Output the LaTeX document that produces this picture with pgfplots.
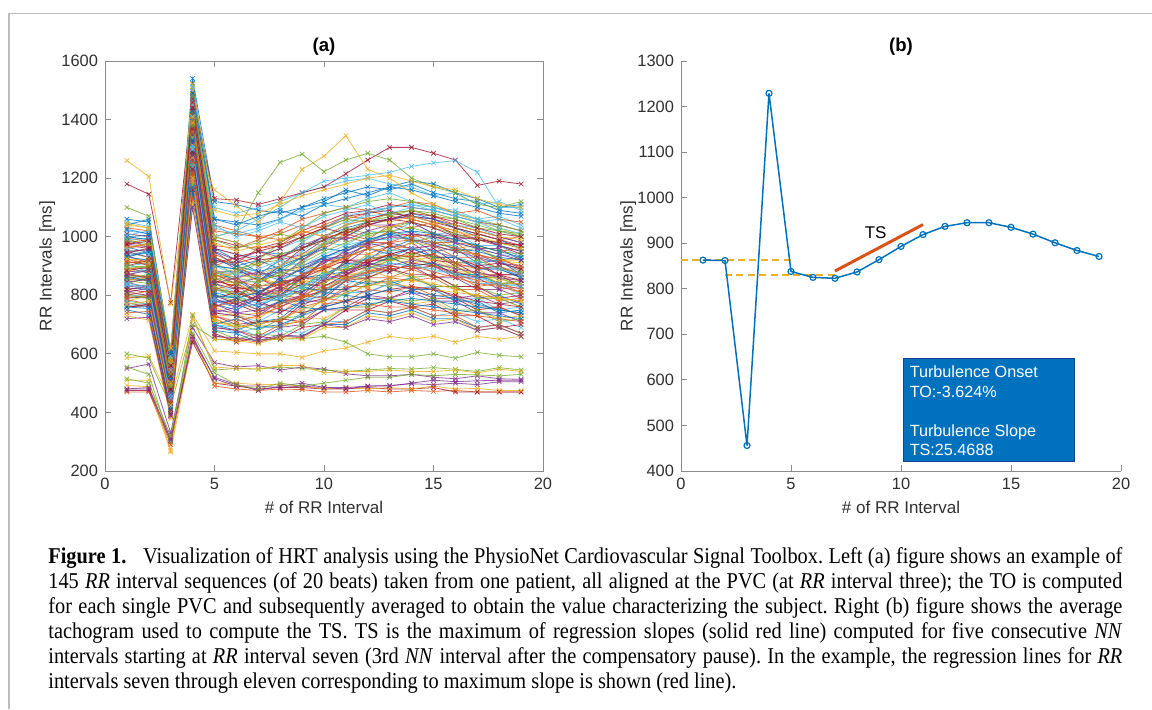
\documentclass[border=0pt]{standalone}
\usepackage{pgfplots}
\pgfplotsset{compat=1.18}
\usepackage{pgfplotstable}
\usepackage{fontspec}
\setmainfont{Liberation Sans}
\newfontfamily\capfont[FakeStretch=0.9]{Liberation Serif}
\definecolor{mB}{HTML}{0072BD}
\definecolor{mO}{HTML}{D95319}
\definecolor{mY}{HTML}{EDB120}
\definecolor{mP}{HTML}{7E2F8E}
\definecolor{mG}{HTML}{77AC30}
\definecolor{mL}{HTML}{4DBEEE}
\definecolor{mR}{HTML}{A2142F}
\definecolor{axgray}{HTML}{8C8C8C}
\definecolor{txgray}{HTML}{303030}
\definecolor{framegray}{HTML}{BDBDBD}
\definecolor{boxborder}{HTML}{1C3F94}
\pgfplotscreateplotcyclelist{matlab}{{mB},{mO},{mY},{mP},{mG},{mL},{mR}}

\pgfplotstableread[col sep=comma, header=false]{
1060,1050,610,1540,1120,1110,1090,1080,1100,1130,1150,1170,1160,1180,1150,1130,1120,1090,1080
470,470,290,660,490,480,475,480,478,470,470,475,470,475,472,475,470,470,470
587,593,440,735,610,605,600,600,588,610,620,640,660,650,660,640,660,650,660
550,565,330,690,570,555,560,545,555,548,532,525,525,530,520,515,525,515,513
600,585,420,700,650,648,648,650,652,660,640,600,590,590,600,585,605,595,590
1050,1035,590,1510,1100,1080,1100,1120,1150,1170,1190,1200,1180,1170,1140,1150,1110,1120,1090
475,475,300,640,500,490,480,485,485,480,480,485,480,480,485,470,470,470,470
1040,1060,600,1525,1060,1050,1040,1060,1100,1120,1160,1140,1170,1190,1180,1150,1130,1100,1110
1030,1020,575,1500,1040,1020,1000,990,1010,1040,1070,1060,1080,1090,1070,1040,1020,1000,980
492,488,265,650,500,500,495,495,490,480,485,480,485,480,490,480,482,475,475
480,480,305,660,515,490,490,485,490,485,480,490,490,500,510,505,508,510,510
555,530,300,730,545,550,548,555,550,545,540,545,550,548,553,547,540,553,545
1020,1010,565,1495,1030,1010,1030,1060,1090,1110,1100,1130,1150,1120,1100,1090,1060,1070,1040
1010,1000,580,1490,990,970,960,980,1020,1050,1080,1090,1110,1100,1090,1070,1050,1040,1020
1000,1005,560,1480,1000,980,950,940,960,1000,1030,1050,1060,1080,1060,1030,1010,990,960
995,985,555,1470,970,960,990,1020,1060,1080,1100,1090,1070,1060,1040,1020,990,980,970
510,510,270,720,555,550,548,560,560,535,540,540,545,540,540,545,535,548,540
480,485,310,650,520,495,475,490,500,485,485,490,492,498,495,500,495,505,505
515,500,320,670,535,495,480,500,490,500,510,520,520,530,525,530,528,525,530
990,995,550,1465,960,940,930,960,990,1020,1050,1070,1080,1070,1050,1040,1030,1000,980
1180,1145,775,1480,1130,1125,1110,1130,1150,1170,1215,1262,1305,1305,1285,1262,1175,1190,1180
985,970,545,1460,950,900,880,900,930,970,1000,1040,1060,1070,1060,1030,1000,970,950
980,990,560,1455,1020,1010,1000,1010,1040,1030,1060,1080,1100,1120,1110,1080,1090,1060,1050
1260,1205,770,1330,1160,1105,1050,1120,1230,1275,1345,1230,1200,1150,1110,1080,1050,1030,1000
975,965,540,1450,930,890,870,880,900,930,960,980,1000,990,970,950,940,910,890
1100,1070,560,1420,1000,1020,1150,1254,1282,1222,1262,1285,1262,1200,1170,1150,1110,1100,1120
1000,990,500,1450,1000,1020,1060,1100,1150,1190,1200,1210,1220,1240,1252,1260,1220,1100,1100
970,960,535,1440,920,910,930,960,1000,1030,1070,1080,1090,1060,1040,1010,990,970,940
965,945,530,1430,900,890,850,880,860,920,930,980,960,990,950,960,910,920,870
960,975,540,1425,940,910,960,970,1020,1000,1010,990,1040,1030,1050,1000,1010,990,1000
955,940,525,1420,890,850,860,840,900,890,960,970,1020,1000,1010,960,970,920,920
950,955,520,1415,880,860,810,850,850,920,910,960,950,980,930,930,890,890,860
945,930,530,1410,910,870,910,920,980,970,1030,1010,1020,980,1000,950,960,920,930
940,945,515,1405,870,860,840,900,910,980,970,1020,1010,1050,1010,1010,970,970,930
935,910,510,1400,860,820,830,800,860,850,920,920,970,940,960,910,910,870,870
930,950,520,1395,900,890,850,890,880,930,930,960,940,960,930,930,890,900,860
925,900,505,1390,850,830,790,830,850,920,920,980,980,1010,980,980,930,930,890
920,925,500,1385,840,800,810,800,850,840,890,890,930,920,930,890,890,850,860
915,905,510,1380,880,880,870,920,940,990,1000,1040,1040,1050,1010,1000,960,960,920
910,915,495,1375,830,790,810,790,830,840,890,900,930,900,910,870,880,840,850
905,880,490,1370,820,810,800,860,870,930,950,990,990,1000,970,970,920,920,880
900,920,500,1365,870,840,860,820,860,860,910,910,940,930,940,900,900,870,870
895,875,485,1360,810,790,760,800,810,870,880,930,930,960,930,930,890,890,860
890,895,480,1355,800,770,800,810,870,890,940,940,970,960,970,930,930,890,890
885,880,490,1350,850,840,810,840,840,890,890,940,930,940,900,900,860,860,830
880,885,475,1345,790,760,770,760,800,810,860,870,900,890,900,860,860,820,830
875,855,470,1340,800,790,780,820,830,880,890,930,920,930,900,900,860,860,830
870,890,480,1335,840,810,820,790,820,830,870,870,910,900,910,870,870,830,840
865,850,465,1330,780,770,740,780,790,850,870,920,920,950,920,910,870,870,830
860,865,460,1325,770,750,790,800,860,870,910,900,930,900,910,870,870,840,840
855,850,470,1320,820,810,780,800,790,820,820,860,860,890,860,870,830,840,810
850,860,455,1315,760,730,740,740,790,810,870,880,920,910,920,880,880,840,840
845,825,450,1310,750,740,730,780,800,860,870,910,890,900,860,860,820,820,790
840,860,460,1305,800,780,790,780,820,820,860,860,890,860,870,830,830,800,810
835,815,445,1300,740,730,710,750,760,820,830,880,880,910,880,880,840,840,800
830,835,440,1290,730,700,710,710,770,790,850,860,890,870,870,830,830,790,800
825,820,450,1285,780,780,750,780,780,820,820,850,840,860,830,830,790,800,770
820,830,435,1280,720,690,710,710,760,780,830,830,860,850,860,820,820,780,790
815,795,430,1270,730,730,720,770,790,850,860,890,860,870,830,830,790,790,760
810,825,440,1260,770,740,750,740,780,780,820,810,840,820,830,790,800,770,780
805,790,425,1250,710,700,680,720,730,790,800,840,830,860,830,830,790,790,760
800,800,420,1240,700,670,690,690,740,760,810,810,840,820,830,790,790,750,760
795,790,430,1230,740,730,700,720,710,750,750,790,790,820,790,790,750,760,730
790,795,415,1220,700,680,710,720,780,800,850,840,850,820,820,780,780,740,750
785,770,410,1210,690,680,660,700,710,770,780,820,810,830,800,800,760,760,730
780,800,420,1200,720,690,700,690,720,720,760,760,790,770,780,740,750,720,730
775,760,405,1190,690,680,650,690,700,750,760,800,790,810,780,780,740,740,710
770,770,400,1180,680,650,670,660,700,710,760,760,790,780,790,750,750,710,720
765,760,410,1170,700,690,660,680,670,710,710,750,740,760,730,740,710,720,690
760,765,395,1160,670,640,660,650,690,700,750,750,780,760,770,730,730,690,700
750,735,390,1150,680,670,640,660,660,700,700,740,730,750,720,720,690,700,670
740,745,385,1130,660,650,640,660,655,700,710,750,740,760,730,730,690,700,670
730,715,380,1110,650,645,635,655,650,690,690,730,720,740,710,720,680,690,660
720,725,390,1100,660,655,645,665,660,700,690,720,710,730,700,710,680,690,660
800,790,430,1350,850,880,920,980,1030,1080,1100,1120,1130,1120,1100,1080,1060,1040,1020
780,770,420,1300,800,830,870,920,980,1030,1070,1090,1100,1110,1090,1070,1050,1020,1000
760,770,410,1280,760,790,850,900,960,1000,1040,1060,1080,1070,1050,1030,1010,990,970
1000,990,560,1480,960,920,880,850,830,810,800,790,780,770,760,750,740,730,720
980,970,550,1450,930,900,860,830,800,790,780,770,760,760,750,740,730,720,710
1040,1030,580,1500,1000,980,950,920,900,880,860,850,840,830,820,810,800,790,780
820,830,450,1320,780,760,800,860,920,970,1010,1040,1060,1070,1060,1040,1020,1000,980
850,840,470,1360,820,800,840,880,930,980,1020,1050,1070,1090,1080,1060,1040,1020,1000
900,910,500,1400,880,870,860,900,950,1000,1040,1080,1100,1110,1100,1080,1060,1030,1010
870,860,480,1380,840,820,780,750,740,760,780,800,820,830,820,800,780,770,760
930,920,510,1420,880,850,810,780,760,750,760,770,780,790,780,770,760,750,740
915,905,540,1440,900,930,900,940,920,960,1000,980,1020,1000,1010,980,970,950,960
890,900,470,1390,860,880,850,870,900,890,930,960,950,980,970,950,940,920,910
950,930,560,1470,950,920,950,930,970,1000,990,1020,1040,1010,1000,990,1000,970,950
860,870,500,1340,830,800,830,850,830,870,900,890,920,940,930,910,920,890,880
1005,1020,590,1510,1040,1000,1020,1050,1030,1070,1090,1110,1080,1100,1090,1070,1050,1060,1030
820,810,480,1290,790,810,780,800,840,830,870,900,880,910,900,880,860,870,850
935,945,520,1430,920,900,920,890,930,960,950,990,1010,990,980,960,950,930,920
875,860,490,1360,820,840,800,830,870,900,880,920,940,930,940,910,890,900,870
965,975,570,1460,980,950,970,990,1020,1000,1040,1060,1050,1070,1050,1040,1020,1000,990
845,855,460,1320,800,770,800,820,810,850,880,910,900,920,910,890,880,860,850
905,890,530,1400,870,890,910,940,960,990,1020,1000,1030,1050,1030,1010,990,980,960
955,940,545,1450,900,870,890,920,900,940,970,990,1000,1020,990,980,960,940,930
885,895,475,1370,850,830,810,840,860,890,920,910,940,960,950,930,900,910,890
1025,1010,600,1490,1060,1040,1070,1090,1070,1110,1130,1150,1170,1160,1140,1120,1100,1080,1070
800,815,440,1260,760,780,750,770,800,830,860,880,900,890,900,870,850,840,820
925,910,500,1410,880,860,870,900,940,970,1010,1040,1030,1060,1040,1020,1000,980,960
870,885,455,1350,840,860,880,860,890,920,940,970,980,960,970,950,930,910,900
990,975,575,1480,990,960,980,1010,990,1030,1060,1050,1080,1090,1070,1060,1030,1020,1010
835,825,450,1300,790,800,770,790,830,860,850,890,910,900,890,870,860,840,830
945,960,525,1440,910,930,950,970,1000,1030,1010,1050,1060,1050,1030,1000,990,980,970
760,755,420,1170,700,720,690,700,730,760,780,800,820,810,800,790,770,750,740
790,800,435,1220,730,710,730,760,790,820,850,880,890,900,880,860,840,830,810
1045,1030,620,1520,1090,1070,1080,1110,1140,1160,1180,1200,1210,1190,1170,1160,1130,1110,1100
810,800,430,1280,740,760,790,830,870,910,950,980,1000,1010,1000,980,960,940,920
895,900,490,1380,860,840,850,870,910,950,980,1010,1020,1030,1010,990,970,950,940
840,830,460,1310,780,760,770,800,830,870,900,930,950,960,950,930,910,890,870
975,985,560,1460,960,940,920,930,960,990,1020,1040,1060,1080,1070,1050,1030,1010,1000
860,850,470,1330,800,790,810,850,890,930,960,990,1010,1020,1010,990,970,950,930
910,920,505,1400,870,850,830,840,870,900,930,960,980,990,980,960,940,920,900
770,780,425,1190,710,690,700,720,750,780,810,830,850,850,840,820,800,790,780
}\raw
\pgfplotstabletranspose{\T}{\raw}
\pgfplotstablegetrowsof{\raw}
\let\NS\pgfplotsretval

\pgfplotsset{
  every axis title shift=0pt,
  mstyle/.style={
    scale only axis,
    tick align=inside,
    major tick length=3pt,
    axis line style={axgray, line width=0.45pt},
    every tick/.style={axgray, line width=0.45pt},
    tick label style={font=\fontsize{8.2}{9}\selectfont, text=txgray},
    /pgf/number format/assume math mode=true,
    /pgf/number format/1000 sep={},
    label style={font=\fontsize{8.5}{9}\selectfont, text=txgray},
    title style={font=\bfseries\fontsize{9.3}{10}\selectfont, text=black},
    xmin=0, xmax=20, xtick={0,5,10,15,20},
    xlabel={\# of RR Interval},
    ylabel={RR Intervals [ms]},
  }
}

\begin{document}
\begin{tikzpicture}
\draw[framegray, line width=0.7pt] (4.5pt,0pt) -- (4.5pt,347.85pt) -- (576pt,347.85pt);

\begin{axis}[mstyle,
  at={(52.5pt,119pt)}, anchor=south west,
  width=219pt, height=205pt,
  ymin=200, ymax=1600, ytick={200,400,...,1600},
  title={(a)},
  title style={at={(axis description cs:0.5,1.034)}, anchor=center},
  xlabel style={at={(axis description cs:0.5,-0.088)}, anchor=center},
  ylabel style={at={(axis description cs:-0.132,0.5)}, anchor=center},
  cycle list name=matlab,
]
\pgfplotsinvokeforeach{1,...,\NS}{
  \addplot+[mark=x, mark size=1.6pt, line width=0.4pt, opacity=0.8, mark options={solid, line width=0.4pt}]
    table[x expr=\coordindex+1, y index=#1] {\T};
}
\end{axis}

\begin{axis}[mstyle,
  at={(340.5pt,119pt)}, anchor=south west,
  width=220pt, height=205pt,
  axis x line*=bottom, axis y line*=left,
  ymin=400, ymax=1300, ytick={400,500,...,1300},
  title={(b)},
  title style={at={(axis description cs:0.5,1.034)}, anchor=center},
  xlabel style={at={(axis description cs:0.5,-0.088)}, anchor=center},
  ylabel style={at={(axis description cs:-0.12,0.5)}, anchor=center},
]
\addplot[mY, line width=0.9pt, dash pattern=on 3.5pt off 2.2pt] coordinates {(0,862.5) (5,862.5)};
\addplot[mY, line width=0.9pt, dash pattern=on 3.5pt off 2.2pt] coordinates {(2,831) (7,831)};
\addplot[mB, line width=0.75pt, mark=o, mark size=1.5pt, mark options={solid, line width=0.6pt}] coordinates {
(1,863) (2,862) (3,456) (4,1229) (5,838) (6,825) (7,823) (8,837) (9,864) (10,893)
(11,919) (12,937) (13,945) (14,945) (15,935) (16,920) (17,901) (18,884) (19,871)};
\addplot[mO, line width=1.5pt] coordinates {(7,839) (11,941)};
\node[font=\fontsize{8.5}{9}\selectfont, text=black] at (axis cs:8.85,923) {TS};
\draw[boxborder, fill=mB, line width=0.6pt] (axis cs:10.1,647.5) rectangle (axis cs:17.9,420.5);
\node[anchor=north west, align=left, text=white, inner sep=0pt,
  font=\fontsize{8.1}{9.75}\selectfont] at (axis cs:10.38,631)
  {Turbulence Onset\\TO:-3.624\%\\\mbox{}\\Turbulence Slope\\TS:25.4688};
\end{axis}

\begin{scope}[every node/.style={anchor=base west, inner sep=0pt, font=\capfont\fontsize{11.3}{12.5}\selectfont\frenchspacing}]
\node at (24pt,72.85pt) {\makebox[537pt][s]{\textbf{Figure 1.}\hspace{0.5em} Visualization of HRT analysis using the PhysioNet Cardiovascular Signal Toolbox. Left (a) figure shows an example of}};
\node at (24pt,60.35pt) {\makebox[537pt][s]{145 \textit{RR} interval sequences (of 20 beats) taken from one patient, all aligned at the PVC (at \textit{RR} interval three); the TO is computed}};
\node at (24pt,47.85pt) {\makebox[537pt][s]{for each single PVC and subsequently averaged to obtain the value characterizing the subject. Right (b) figure shows the average}};
\node at (24pt,35.35pt) {\makebox[537pt][s]{tachogram used to compute the TS. TS is the maximum of regression slopes (solid red line) computed for five consecutive \textit{NN}}};
\node at (24pt,22.85pt) {\makebox[537pt][s]{intervals starting at \textit{RR} interval seven (3rd \textit{NN} interval after the compensatory pause). In the example, the regression lines for \textit{RR}}};
\node at (24pt,10.35pt) {intervals seven through eleven corresponding to maximum slope is shown (red line).};
\end{scope}

\pgfresetboundingbox
\path (0pt,0pt) rectangle (576pt,354.5pt);
\end{tikzpicture}
\end{document}
